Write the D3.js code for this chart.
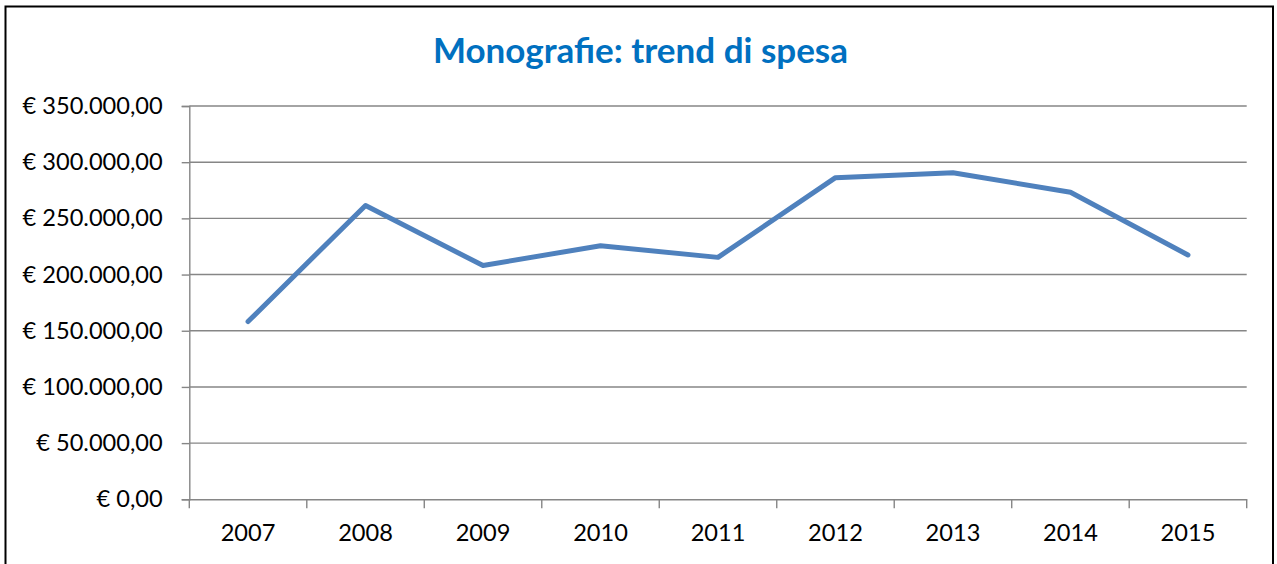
<!DOCTYPE html>
<html>
<head>
<meta charset="utf-8">
<script src="https://cdn.jsdelivr.net/npm/d3@7"></script>
<style>
  html, body { margin: 0; padding: 0; background: #fff; }
  svg { display: block; }
</style>
</head>
<body>
<svg id="chart" width="1277" height="564"></svg>
<script>
const title = "Monografie: trend di spesa";
const years = ["2007", "2008", "2009", "2010", "2011", "2012", "2013", "2014", "2015"];
const spesa = [158200, 261500, 208000, 225700, 215300, 286200, 290600, 273200, 217400];
const yTicks = [0, 50000, 100000, 150000, 200000, 250000, 300000, 350000];

const svg = d3.select("#chart");
const W = 1277, H = 564;
const margin = { left: 189.3, right: W - 1246.7, top: 106, bottom: H - 499.3 };

const fontFamily = "Lato, 'Liberation Sans', sans-serif";

// outer frame
svg.append("rect")
  .attr("x", 5.5).attr("y", 6.5)
  .attr("width", 1267.5).attr("height", 600)
  .attr("fill", "#fff").attr("stroke", "#000").attr("stroke-width", 2);

const x = d3.scaleBand().domain(years).range([margin.left, W - margin.right]).padding(0);
const y = d3.scaleLinear().domain([0, 350000]).range([H - margin.bottom, margin.top]);

const fmt = v => "€ " + d3.formatLocale({ decimal: ",", thousands: ".", grouping: [3], currency: ["€", ""] }).format(",.2f")(v);

// gridlines + y axis
const yAxis = d3.axisLeft(y).tickValues(yTicks).tickFormat(fmt).tickSize(7.6).tickPadding(19);
const gy = svg.append("g").attr("transform", `translate(${margin.left},0)`).call(yAxis);
gy.select(".domain").attr("stroke", "#868686").attr("stroke-width", 1.4);
gy.selectAll(".tick line").attr("stroke", "#868686").attr("stroke-width", 1.4);
gy.selectAll(".tick text").attr("fill", "#000").style("font-family", fontFamily).style("font-size", "23.6px");

svg.append("g").selectAll("line").data(yTicks.filter(d => d > 0)).join("line")
  .attr("x1", margin.left).attr("x2", W - margin.right)
  .attr("y1", d => y(d)).attr("y2", d => y(d))
  .attr("stroke", "#868686").attr("stroke-width", 1.4);

// x axis
const xAxis = d3.axisBottom(x).tickSize(0).tickPadding(25);
const gx = svg.append("g").attr("transform", `translate(0,${y(0)})`).call(xAxis);
gx.select(".domain").attr("stroke", "#868686").attr("stroke-width", 1.4);
gx.selectAll(".tick text").attr("fill", "#000").style("font-family", fontFamily).style("font-size", "23.6px");
// boundary tick marks
const bounds = years.map(d => x(d)).concat([x(years[years.length - 1]) + x.bandwidth()]);
gx.selectAll("line.bt").data(bounds).join("line").attr("class", "bt")
  .attr("x1", d => d).attr("x2", d => d).attr("y1", 0).attr("y2", 9)
  .attr("stroke", "#868686").attr("stroke-width", 1.4);

// line
const line = d3.line()
  .x((d, i) => x(years[i]) + x.bandwidth() / 2)
  .y(d => y(d));
svg.append("path").datum(spesa)
  .attr("d", line)
  .attr("fill", "none").attr("stroke", "#4F81BD").attr("stroke-width", 5)
  .attr("stroke-linejoin", "round").attr("stroke-linecap", "round");

// title
svg.append("text")
  .attr("x", 640.5).attr("y", 63)
  .attr("text-anchor", "middle")
  .attr("fill", "#0070C0")
  .style("font-family", fontFamily).style("font-weight", "bold").style("font-size", "35px")
  .text(title);
</script>
</body>
</html>
